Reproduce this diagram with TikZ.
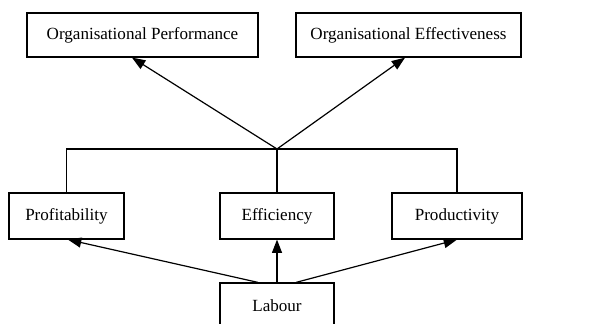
\documentclass[tikz,border=0pt]{standalone}
\usepackage{fontspec}
\setmainfont{Liberation Serif}
\usetikzlibrary{arrows.meta}

\tikzset{
  box/.style={draw, line width=0.9pt, minimum height=33pt, inner sep=0pt, font=\fontsize{12.8}{15}\selectfont},
  link/.style={line width=0.9pt},
  arr/.style={link, -{Triangle[length=10pt,width=7.5pt]}}
}

\begin{document}
\begin{tikzpicture}[x=0.75pt,y=0.75pt,yscale=-1,xscale=1]
\clip (0,0) rectangle (616,324);

% top row
\node[box, minimum width=173.25pt] (perf) at (142.5,35) {Organisational Performance};
\node[box, minimum width=168.75pt] (effect) at (408.5,35) {Organisational Effectiveness};

% middle row
\node[box, minimum width=86.25pt, minimum height=34.5pt] (profit) at (66.5,216) {Profitability};
\node[box, minimum width=85.5pt, minimum height=34.5pt] (effic) at (277,216) {Efficiency};
\node[box, minimum width=97.5pt, minimum height=34.5pt] (prod) at (457,216) {Productivity};

% bottom
\node[box, minimum width=85.5pt, minimum height=34.5pt] (labour) at (277,306) {Labour};

\coordinate (hub) at (277,149);

% joining bar over the middle row
\draw[link] (profit.north) |- (prod.north |- hub) -- (prod.north);
\draw[link] (effic.north) -- (hub);

% up to the top row
\draw[arr] (hub) -- ([xshift=-7.9pt]perf.south);
\draw[arr] (hub) -- ([xshift=-2.6pt]effect.south);

% from labour
\draw[arr] ([xshift=-14.25pt]labour.north) -- ([xshift=1.1pt]profit.south);
\draw[arr] (labour.north) -- (effic.south);
\draw[arr] ([xshift=14.25pt]labour.north) -- (prod.south);

\end{tikzpicture}
\end{document}
